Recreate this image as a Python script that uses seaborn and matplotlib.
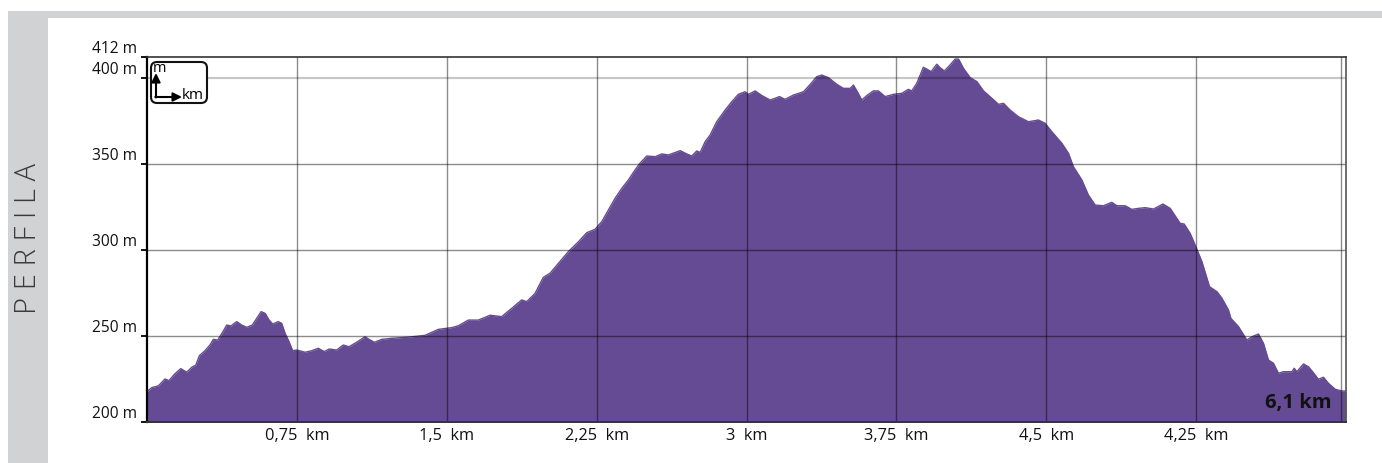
import numpy as np
import pandas as pd
import matplotlib
matplotlib.use("Agg")
import matplotlib.pyplot as plt
import seaborn as sns
from matplotlib.patches import Rectangle, FancyBboxPatch, FancyArrowPatch

# ---- data (distance in km, elevation in m) ----
distance_km = [
    0.0, 0.024, 0.057, 0.090, 0.110, 0.137, 0.169, 0.199, 0.224, 0.244, 0.262, 0.290,
    0.315, 0.332, 0.354, 0.377, 0.399, 0.420, 0.449, 0.474, 0.499, 0.527, 0.549, 0.571,
    0.591, 0.611, 0.629, 0.657, 0.674, 0.691, 0.711, 0.729, 0.749, 0.791, 0.824, 0.857,
    0.887, 0.912, 0.949, 0.982, 1.011, 1.053, 1.091, 1.111, 1.138, 1.175, 1.225, 1.300,
    1.391, 1.458, 1.525, 1.558, 1.608, 1.658, 1.717, 1.775, 1.825, 1.875, 1.900, 1.942,
    1.983, 2.017, 2.059, 2.109, 2.159, 2.201, 2.242, 2.276, 2.309, 2.342, 2.376, 2.409,
    2.440, 2.467, 2.501, 2.543, 2.576, 2.609, 2.668, 2.701, 2.726, 2.751, 2.768, 2.793,
    2.818, 2.851, 2.893, 2.926, 2.959, 2.993, 3.010, 3.043, 3.077, 3.118, 3.143, 3.165,
    3.193, 3.235, 3.285, 3.319, 3.352, 3.377, 3.410, 3.452, 3.485, 3.519, 3.535, 3.555,
    3.577, 3.602, 3.635, 3.660, 3.694, 3.735, 3.777, 3.810, 3.827, 3.852, 3.885, 3.902,
    3.924, 3.952, 3.969, 3.990, 4.019, 4.044, 4.061, 4.086, 4.119, 4.153, 4.186, 4.228,
    4.261, 4.286, 4.319, 4.361, 4.411, 4.461, 4.494, 4.528, 4.578, 4.611, 4.636, 4.678,
    4.711, 4.745, 4.786, 4.828, 4.853, 4.895, 4.928, 4.962, 4.995, 5.037, 5.084, 5.120,
    5.170, 5.190, 5.220, 5.245, 5.279, 5.317, 5.354, 5.379, 5.412, 5.424, 5.462, 5.504,
    5.529, 5.562, 5.587, 5.612, 5.637, 5.662, 5.687, 5.729, 5.741, 5.754, 5.787, 5.812,
    5.837, 5.862, 5.887, 5.912, 5.946, 5.979, 6.000,
]
elevation_m = [
    217.6, 220.0, 221.0, 225.0, 224.0, 227.7, 231.0, 228.9, 231.8, 233.0, 238.5, 241.4,
    244.7, 248.0, 247.6, 251.9, 256.3, 255.8, 258.3, 256.3, 255.0, 256.3, 260.2, 264.1,
    263.1, 259.2, 256.9, 258.3, 257.3, 251.5, 246.6, 241.4, 241.8, 240.5, 241.4, 242.8,
    240.9, 242.4, 241.8, 244.7, 243.7, 246.6, 249.5, 248.0, 246.3, 248.0, 248.6, 249.2,
    250.3, 253.8, 254.8, 255.9, 259.2, 259.2, 262.0, 261.2, 266.0, 270.9, 269.9, 274.7,
    284.0, 286.4, 292.2, 299.0, 304.7, 310.0, 311.9, 316.4, 323.1, 329.9, 335.7, 340.6,
    346.0, 350.3, 354.5, 354.1, 355.7, 355.1, 357.6, 355.7, 354.5, 357.4, 356.6, 362.8,
    366.7, 374.4, 381.2, 386.0, 390.3, 391.8, 390.3, 392.3, 389.6, 387.0, 388.0, 389.0,
    387.4, 389.9, 391.8, 396.1, 400.6, 401.5, 400.0, 396.1, 393.8, 393.8, 395.7, 391.8,
    387.0, 389.6, 392.3, 392.3, 389.0, 390.3, 390.9, 393.2, 392.3, 396.7, 406.0, 405.0,
    403.5, 407.8, 405.8, 403.9, 407.4, 410.8, 410.8, 405.4, 400.0, 397.7, 392.3, 388.0,
    384.5, 385.1, 381.2, 377.3, 374.4, 375.4, 373.5, 368.6, 361.9, 356.1, 348.3, 340.6,
    331.8, 326.0, 325.6, 327.6, 325.6, 325.6, 323.5, 324.1, 324.5, 323.7, 326.6, 324.1,
    315.4, 315.0, 309.6, 302.8, 293.1, 278.6, 275.7, 271.9, 265.0, 260.2, 255.4, 247.6,
    249.5, 251.1, 245.7, 236.0, 234.1, 228.3, 229.2, 229.2, 231.2, 229.2, 233.7, 232.1,
    228.6, 224.8, 226.0, 222.5, 219.0, 218.0, 218.0,
]
y_ticks = [200, 250, 300, 350, 400, 412]
y_tick_labels = ["200 m", "250 m", "300 m", "350 m", "400 m", "412 m"]
x_ticks = [0.75, 1.5, 2.25, 3.0, 3.75, 4.5, 5.25]
x_tick_labels = ["0,75  km", "1,5  km", "2,25  km", "3  km", "3,75  km", "4,5  km", "4,25  km"]
total_label = "6,1 km"
side_title = "P E R F I L A"

df = pd.DataFrame({"km": distance_km, "m": elevation_m})

sns.set_theme(style="white")
plt.rcParams["font.family"] = ["Open Sans", "DejaVu Sans"]

W, H = 1382, 463
fig = plt.figure(figsize=(W / 100, H / 100), dpi=100)
fig.patch.set_facecolor("white")

grey = "#d1d2d4"
# grey frame: top strip and left panel
fig.add_artist(Rectangle((8 / W, 0), (W - 8) / W, (H - 11) / H, transform=fig.transFigure,
                         facecolor=grey, edgecolor="none", zorder=0))
fig.add_artist(Rectangle((48 / W, 0), (W - 48) / W, (H - 18) / H, transform=fig.transFigure,
                         facecolor="white", edgecolor="none", zorder=0))

fig.text(28 / W, 1 - 239 / H, side_title, rotation=90, ha="center", va="center",
         fontsize=21, color="#3a3a3a", fontweight="light")

ax = fig.add_axes([147 / W, 1 - 422 / H, 1199 / W, 365 / H])
ax.set_facecolor("white")

purple = "#654a94"
ax.fill_between(df["km"], df["m"], 200, color=purple, linewidth=0, zorder=1)
sns.lineplot(data=df, x="km", y="m", ax=ax, color=purple, linewidth=1.0, zorder=2)

ax.set_xlim(0, 6.0)
ax.set_ylim(200, 412)

# grid lines on top
for xv in x_ticks + [5.975]:
    ax.axvline(xv, color="black", alpha=0.45, linewidth=1.0, zorder=3)
for yv in [250, 300, 350]:
    ax.axhline(yv, color="black", alpha=0.45, linewidth=1.0, zorder=3)
ax.axhline(400, color="black", alpha=0.22, linewidth=1.6, zorder=3)

ax.set_yticks(y_ticks)
ax.set_yticklabels(y_tick_labels)
for lbl in ax.get_yticklabels():
    lbl.set_verticalalignment("bottom")
ax.tick_params(axis="y", left=True, length=4.5, width=1.3, color="black", pad=3,
               labelsize=11.2, labelcolor="#111111")

ax.set_xticks(x_ticks)
ax.set_xticklabels(x_tick_labels)
ax.tick_params(axis="x", bottom=True, length=0, pad=4, labelsize=11.8, labelcolor="#111111")
ax.set_xlabel("")
ax.set_ylabel("")

for side, lw, col in [("left", 1.6, "black"), ("bottom", 1.4, "#333333"),
                      ("top", 1.2, "#333333"), ("right", 1.2, "#555555")]:
    ax.spines[side].set_visible(True)
    ax.spines[side].set_linewidth(lw)
    ax.spines[side].set_color(col)
    ax.spines[side].set_zorder(4)

ax.text(0.988, 0.025, total_label, transform=ax.transAxes, ha="right", va="bottom",
        fontsize=14.5, fontweight="bold", color="#111111", zorder=5)

# unit legend box (pixel-based, via inches transform)
tr = fig.dpi_scale_trans
def P(px, py):
    return (px / 100, (H - py) / 100)

box = FancyBboxPatch(P(151, 103), (207 - 151) / 100, (103 - 62) / 100,
                     boxstyle="round,pad=0,rounding_size=0.06", transform=tr,
                     facecolor="white", edgecolor="#111111", linewidth=1.5, zorder=6)
fig.add_artist(box)
fig.add_artist(FancyArrowPatch(P(156, 97.5), P(156, 73), transform=tr, arrowstyle="-|>",
                               mutation_scale=13, color="black", linewidth=1.5, zorder=7,
                               shrinkA=0, shrinkB=0))
fig.add_artist(FancyArrowPatch(P(155.3, 97), P(182, 97), transform=tr, arrowstyle="-|>",
                               mutation_scale=13, color="black", linewidth=1.5, zorder=7,
                               shrinkA=0, shrinkB=0))
fig.text(153 / W, 1 - 68 / H, "m", ha="left", va="center", fontsize=10.5, color="black", zorder=7)
fig.text(181.5 / W, 1 - 95.5 / H, "km", ha="left", va="center", fontsize=11, color="black", zorder=7)

fig.savefig("out.png", dpi=100)
